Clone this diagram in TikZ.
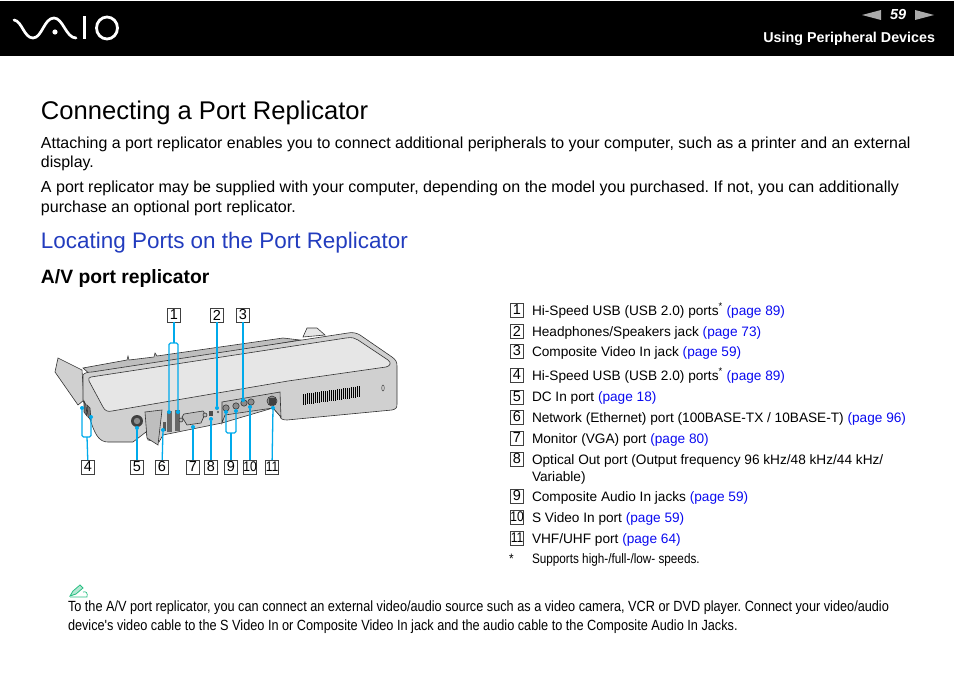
\documentclass[tikz,border=0pt]{standalone}
\usepackage{fontspec}
\setmainfont{Liberation Sans}
\newfontfamily\narrowfont[FakeStretch=0.86]{Liberation Sans}
\usetikzlibrary{arrows}
\definecolor{leader}{RGB}{0,170,235}
\definecolor{headblue}{RGB}{34,60,190}
\definecolor{linkblue}{RGB}{10,10,240}
\definecolor{pengreen}{RGB}{40,190,130}
\definecolor{bodygray}{RGB}{208,208,208}
\definecolor{topgray}{RGB}{230,230,230}
\definecolor{midgray}{RGB}{170,170,170}
\definecolor{recessgray}{RGB}{190,190,190}
\definecolor{portgray}{RGB}{140,140,140}
\newcommand{\plink}[1]{\textcolor{linkblue}{(page #1)}}
\frenchspacing
\tikzset{
 every node/.style={inner sep=0pt,outer sep=0pt},
 bodytext/.style={anchor=base west,align=left,font=\fontsize{15.93}{20}\selectfont},
 legendtext/.style={anchor=base west,align=left,font=\fontsize{13.65}{17}\selectfont},
 notetext/.style={anchor=base west,align=left,font=\narrowfont\fontsize{14.78}{19}\selectfont},
 numbox/.style={draw=black!75,line width=0.8pt,fill=white,minimum width=13.5pt,minimum height=14pt,font=\fontsize{14.5}{15}\selectfont},
 twobox/.style={numbox,font=\narrowfont\fontsize{14}{15}\selectfont},
 leaderline/.style={draw=leader,line width=1.3pt,rounded corners=1.5pt},
 dot/.style={circle,fill=leader,minimum size=4pt},
 outline/.style={draw=black!80,line width=0.6pt}
}
\begin{document}
\begin{tikzpicture}[x=1pt,y=-1pt]
\useasboundingbox (0,0) rectangle (954,674);
% header band
\fill[black] (0,1) rectangle (954,56);
\draw[white,line width=2.7pt,line cap=round] (14,20) .. controls (22,21) and (24,38) .. (33,38) .. controls (42,38) and (44,18) .. (54,18) .. controls (63,18) and (66,38) .. (76,38);
\fill[white] (55,32) circle (2.6pt);
\fill[white] (83,16) -- (86,16) -- (86,39.5) -- (83,39.5) -- cycle;
\draw[white,line width=2.8pt] (107,28) ellipse (10.5pt and 11pt);
\fill[midgray] (862,15) -- (881,10) -- (881,20) -- cycle;
\fill[midgray] (934,15) -- (915,10) -- (915,20) -- cycle;
\draw (890,20) node (pagenum) [anchor=base west,text=white,font=\fontsize{14.5}{15}\selectfont\bfseries\itshape] {59};
\draw (935,43) node (section) [anchor=base east,text=white,font=\fontsize{14.3}{16}\selectfont\bfseries] {Using Peripheral Devices};
% page text
\draw (41,120) node (title) [anchor=base west,font=\fontsize{25.6}{30}\selectfont] {Connecting a Port Replicator};
\draw (41,168) node (para1) [bodytext] {Attaching a port replicator enables you to connect additional peripherals to your computer, such as a printer and an external\\display.};
\draw (41,212) node (para2) [bodytext,font=\fontsize{16.03}{20}\selectfont] {A port replicator may be supplied with your computer, depending on the model you purchased. If not, you can additionally\\purchase an optional port replicator.};
\draw (41,248) node (subtitle) [anchor=base west,text=headblue,font=\fontsize{22.45}{24}\selectfont] {Locating Ports on the Port Replicator};
\draw (41,283) node (avtitle) [anchor=base west,font=\fontsize{19.3}{20}\selectfont\bfseries] {A/V port replicator};
% replicator body
\fill[topgray,outline] (303,337) -- (307,328) -- (317,328) -- (325,335) -- cycle;
\fill[bodygray,outline] (55,372) -- (58,358) -- (82,370) -- (84,400) -- (78,405) -- cycle;
\fill[recessgray,outline] (83,368) -- (127,360) -- (128,356) -- (129,360) -- (154,357) -- (155,353) -- (157,356) -- (283,338) -- (300,340) -- (92,376) -- cycle;
\fill[bodygray,outline] (83,375) .. controls (84,373) and (88,372) .. (92,372) -- (348,333) .. controls (352,332) and (357,333) .. (360,335) -- (392,357) .. controls (396,360) and (397,362) .. (397,366) -- (397,404) .. controls (397,408) and (396,409) .. (392,410) -- (287,420) .. controls (283,420) and (280,419) .. (280,416) -- (273,408) -- (222,423) -- (163,435) -- (159,442) -- (148,440) -- (146,432) -- (133,442) -- (108,442) .. controls (100,442) and (96,436) .. (92,425) -- (83,400) -- cycle;
\fill[topgray,outline] (91,377) -- (346,338) .. controls (352,337) and (355,338) .. (358,340) -- (388,360) .. controls (392,363) and (390,366) .. (386,367) -- (288,381) -- (112,411) .. controls (108,412) and (105,411) .. (103,407) -- (89,381) .. controls (88,379) and (89,377) .. (91,377) -- cycle;
\fill[recessgray,outline] (222,402) -- (280,392) -- (281,417) -- (273,408) -- (225,415) -- (222,423) -- cycle;
\fill[recessgray,outline] (145,412) -- (162,410) -- (158,445) -- (147,438) -- cycle;
\fill[black!55,outline] (84,401) -- (86,405) -- (87,416) -- (84,412) -- cycle;
\fill[black!55,outline] (87,405) -- (90,408) -- (91,420) -- (88,417) -- cycle;
% ports
\fill[black!75] (137,421) circle (6pt);
\fill[portgray] (137,421) circle (3.2pt);
\fill[black!65] (163,422) rectangle (166,431);
\fill[black!60] (167,411) rectangle (172,432);
\fill[black!60] (175,410) rectangle (180,431);
\fill[recessgray,outline] (182,417) -- (184,414) -- (203,411) -- (205,414) -- (201,423) -- (187,425) -- cycle;
\fill[recessgray,outline] (205,415) circle (2pt);
\fill[recessgray,outline] (181,420) circle (2pt);
\fill[black!70] (209,411) rectangle (213,416);
\fill[black!70] (218,412) circle (1.2pt);
\foreach \px/\py in {226/408,236/406,244/403,251/402}{\fill[portgray,outline] (\px,\py) circle (3.2pt);}
\fill[portgray,outline] (272,401) circle (5pt);
\fill[black!75] (269,398) rectangle (276,405);
% vent
\foreach \vx in {303,305,...,360}{\draw[black,line width=1pt] (\vx,{394+(\vx-303)*(-0.14)}) -- (\vx,{405+(\vx-303)*(-0.14)});}
\draw[black!70,line width=0.5pt] (383,388) ellipse (1.3pt and 3pt);
% callouts top
\draw (174,315) node (c1) [numbox] {1};
\draw (217,315) node (c2) [numbox] {2};
\draw (243,315) node (c3) [numbox] {3};
\draw (88,467) node (c4) [numbox] {4};
\draw (137,467) node (c5) [numbox] {5};
\draw (162,467) node (c6) [numbox] {6};
\draw (193,467) node (c7) [numbox] {7};
\draw (211,467) node (c8) [numbox] {8};
\draw (231,467) node (c9) [numbox] {9};
\draw (250,467) node (c10) [twobox] {10};
\draw (272,467) node (c11) [twobox] {11};
\draw (169,412) node (p1a) [dot] {};
\draw (178,412) node (p1b) [dot] {};
\draw (217,408) node (p2) [dot] {};
\draw (243,400) node (p3) [dot] {};
\draw (82,408) node (p4a) [dot] {};
\draw (91,417) node (p4b) [dot] {};
\draw (137,428) node (p5) [dot] {};
\draw (163,430) node (p6) [dot] {};
\draw (193,427) node (p7) [dot] {};
\draw (211,419) node (p8) [dot] {};
\draw (226,412) node (p9a) [dot] {};
\draw (236,411) node (p9b) [dot] {};
\draw (250,407) node (p10) [dot] {};
\draw (273,408) node (p11) [dot] {};
\coordinate (j1) at (174,343);
\coordinate (j4) at (87,437);
\coordinate (j9) at (231,433);
\draw[leaderline] (c1) -- (j1);
\draw[leaderline] (p1a) -- (169,343) -- (178,343) -- (p1b);
\draw[leaderline] (c2) -- (p2);
\draw[leaderline] (c3) -- (p3);
\draw[leaderline] (c4) -- (j4);
\draw[leaderline] (p4a) -- (82,437) -- (91,437) -- (p4b);
\draw[leaderline] (c5) -- (p5);
\draw[leaderline] (c6) -- (p6);
\draw[leaderline] (c7) -- (p7);
\draw[leaderline] (c8) -- (p8);
\draw[leaderline] (c9) -- (j9);
\draw[leaderline] (p9a) -- (226,433) -- (236,433) -- (p9b);
\draw[leaderline] (c10) -- (p10);
\draw[leaderline] (c11) -- (p11);
% legend
\draw (517,310) node (n1) [numbox] {1};
\draw (532,315) node (t1) [legendtext] {Hi-Speed USB (USB 2.0) ports\textsuperscript{*} \plink{89}};
\draw (517,331) node (n2) [numbox] {2};
\draw (532,336) node (t2) [legendtext] {Headphones/Speakers jack \plink{73}};
\draw (517,351) node (n3) [numbox] {3};
\draw (532,356) node (t3) [legendtext] {Composite Video In jack \plink{59}};
\draw (517,375) node (n4) [numbox] {4};
\draw (532,380) node (t4) [legendtext] {Hi-Speed USB (USB 2.0) ports\textsuperscript{*} \plink{89}};
\draw (517,397) node (n5) [numbox] {5};
\draw (532,401) node (t5) [legendtext] {DC In port \plink{18}};
\draw (517,417) node (n6) [numbox] {6};
\draw (532,422) node (t6) [legendtext] {Network (Ethernet) port (100BASE-TX / 10BASE-T) \plink{96}};
\draw (517,438) node (n7) [numbox] {7};
\draw (532,443) node (t7) [legendtext] {Monitor (VGA) port \plink{80}};
\draw (517,459) node (n8) [numbox] {8};
\draw (532,481) node (t8) [legendtext] {Optical Out port (Output frequency 96 kHz/48 kHz/44 kHz/\\Variable)};
\draw (517,496) node (n9) [numbox] {9};
\draw (532,501) node (t9) [legendtext] {Composite Audio In jacks \plink{59}};
\draw (517,517) node (n10) [twobox] {10};
\draw (532,522) node (t10) [legendtext] {S Video In port \plink{59}};
\draw (517,538) node (n11) [twobox] {11};
\draw (532,543) node (t11) [legendtext] {VHF/UHF port \plink{64}};
\draw (509,563) node (star) [anchor=base west,font=\narrowfont\fontsize{13.65}{14}\selectfont] {*};
\draw (532,563) node (foot) [anchor=base west,font=\narrowfont\fontsize{13.65}{14}\selectfont] {Supports high-/full-/low- speeds.};
% note
\draw[pengreen,line width=0.8pt,fill=pengreen!35] (70,596) -- (73,591) -- (80,585) -- (83,588) -- (76,594) -- cycle;
\draw[pengreen,line width=0.7pt] (70,597) -- (87,597) .. controls (88,593) and (86,591) .. (83,592);
\draw (68,630) node (note) [notetext] {To the A/V port replicator, you can connect an external video/audio source such as a video camera, VCR or DVD player. Connect your video/audio\\device's video cable to the S Video In or Composite Video In jack and the audio cable to the Composite Audio In Jacks.};
\end{tikzpicture}
\end{document}
